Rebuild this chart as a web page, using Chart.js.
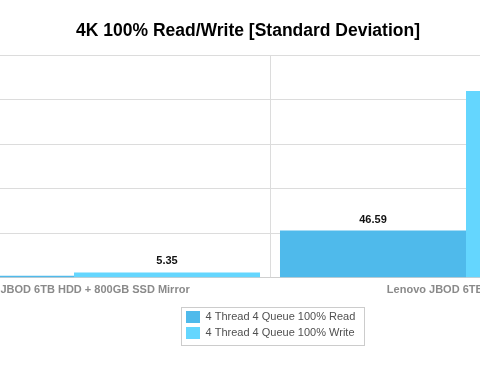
<!DOCTYPE html>
<html>
<head>
<meta charset="utf-8">
<title>4K 100% Read/Write [Standard Deviation]</title>
<script src="https://cdn.jsdelivr.net/npm/chart.js@4/dist/chart.umd.min.js"></script>
<style>
  html, body { margin: 0; padding: 0; background: #fff; }
  /* the original is a crop of a wider chart, so the canvas overhangs the window */
  #wrap { position: relative; width: 480px; height: 373px; overflow: hidden; }
  #wrap canvas { position: absolute; left: -166px; top: 0; }
</style>
</head>
<body>
<div id="wrap"><canvas id="chart" width="828" height="373"></canvas></div>
<script>
// ── Data ────────────────────────────────────────────────
const categories  = ['Lenovo JBOD 6TB HDD + 800GB SSD Mirror', 'Lenovo JBOD 6TB HDD Mirror'];
const seriesNames = ['4 Thread 4 Queue 100% Read', '4 Thread 4 Queue 100% Write'];
const readValues  = [2.1, 46.59];
const writeValues = [5.35, 184.5];
const yTicks      = [0, 44, 88, 132, 176, 220];

const FONT = '"Liberation Sans", Arial, Helvetica, sans-serif';
const GRID = '#dcdcdc';

// ── Value labels above bars ─────────────────────────────
const valueLabels = {
  id: 'valueLabels',
  afterDatasetsDraw(chart) {
    const ctx = chart.ctx;
    ctx.save();
    ctx.font = 'bold 11px ' + FONT;
    ctx.fillStyle = '#111';
    ctx.textAlign = 'center';
    ctx.textBaseline = 'middle';
    chart.data.datasets.forEach((ds, i) => {
      chart.getDatasetMeta(i).data.forEach((bar, j) => {
        ctx.fillText(String(ds.data[j]), bar.x, bar.y - 11);
      });
    });
    ctx.restore();
  }
};

// ── Boxed legend sitting under the axis ─────────────────
const legendBox = { left: 347, top: 307, right: 530, bottom: 345 };
const boxedLegend = {
  id: 'boxedLegend',
  afterLayout(chart) {
    const lg = chart.legend;
    lg.left = legendBox.left + 1;
    lg.top = legendBox.top;
    lg.right = legendBox.right;
    lg.bottom = legendBox.bottom;
    lg.width = lg.right - lg.left;
    lg.height = lg.bottom - lg.top;
  },
  afterDraw(chart) {
    const ctx = chart.ctx;
    ctx.save();
    ctx.strokeStyle = '#cccccc';
    ctx.lineWidth = 1;
    ctx.strokeRect(legendBox.left + 0.5, legendBox.top + 0.5,
      legendBox.right - legendBox.left, legendBox.bottom - legendBox.top);
    ctx.restore();
  }
};

new Chart(document.getElementById('chart'), {
  type: 'bar',
  data: {
    labels: categories,
    datasets: [
      { label: seriesNames[0], data: readValues,  backgroundColor: '#4fbaeb' },
      { label: seriesNames[1], data: writeValues, backgroundColor: '#64d6fe' }
    ]
  },
  options: {
    responsive: false,
    animation: false,
    categoryPercentage: 0.949,
    barPercentage: 1,
    layout: { padding: { left: 0, right: 0, top: 0, bottom: 70 } },
    plugins: {
      title: {
        display: true,
        text: '4K 100% Read/Write [Standard Deviation]',
        color: '#000',
        font: { family: FONT, size: 17.5, weight: 'bold' },
        padding: { top: 21, bottom: 13 }
      },
      legend: {
        position: 'chartArea',
        align: 'start',
        labels: {
          color: '#505050',
          font: { family: FONT, size: 11 },
          boxWidth: 14,
          boxHeight: 12,
          padding: 4
        }
      },
      tooltip: { enabled: false }
    },
    scales: {
      x: {
        grid: { color: GRID, drawTicks: false },
        border: { color: '#cfcfcf' },
        ticks: {
          color: '#8a8a8a',
          font: { family: FONT, size: 11, weight: 'bold' },
          padding: 6,
          maxRotation: 0,
          autoSkip: false
        }
      },
      y: {
        min: yTicks[0],
        max: yTicks[yTicks.length - 1],
        afterBuildTicks: axis => { axis.ticks = yTicks.map(v => ({ value: v })); },
        afterFit: axis => { axis.width = 44; },
        grid: { color: GRID, drawTicks: false },
        border: { display: false },
        ticks: { display: false }
      }
    }
  },
  plugins: [valueLabels, boxedLegend]
});
</script>
</body>
</html>
